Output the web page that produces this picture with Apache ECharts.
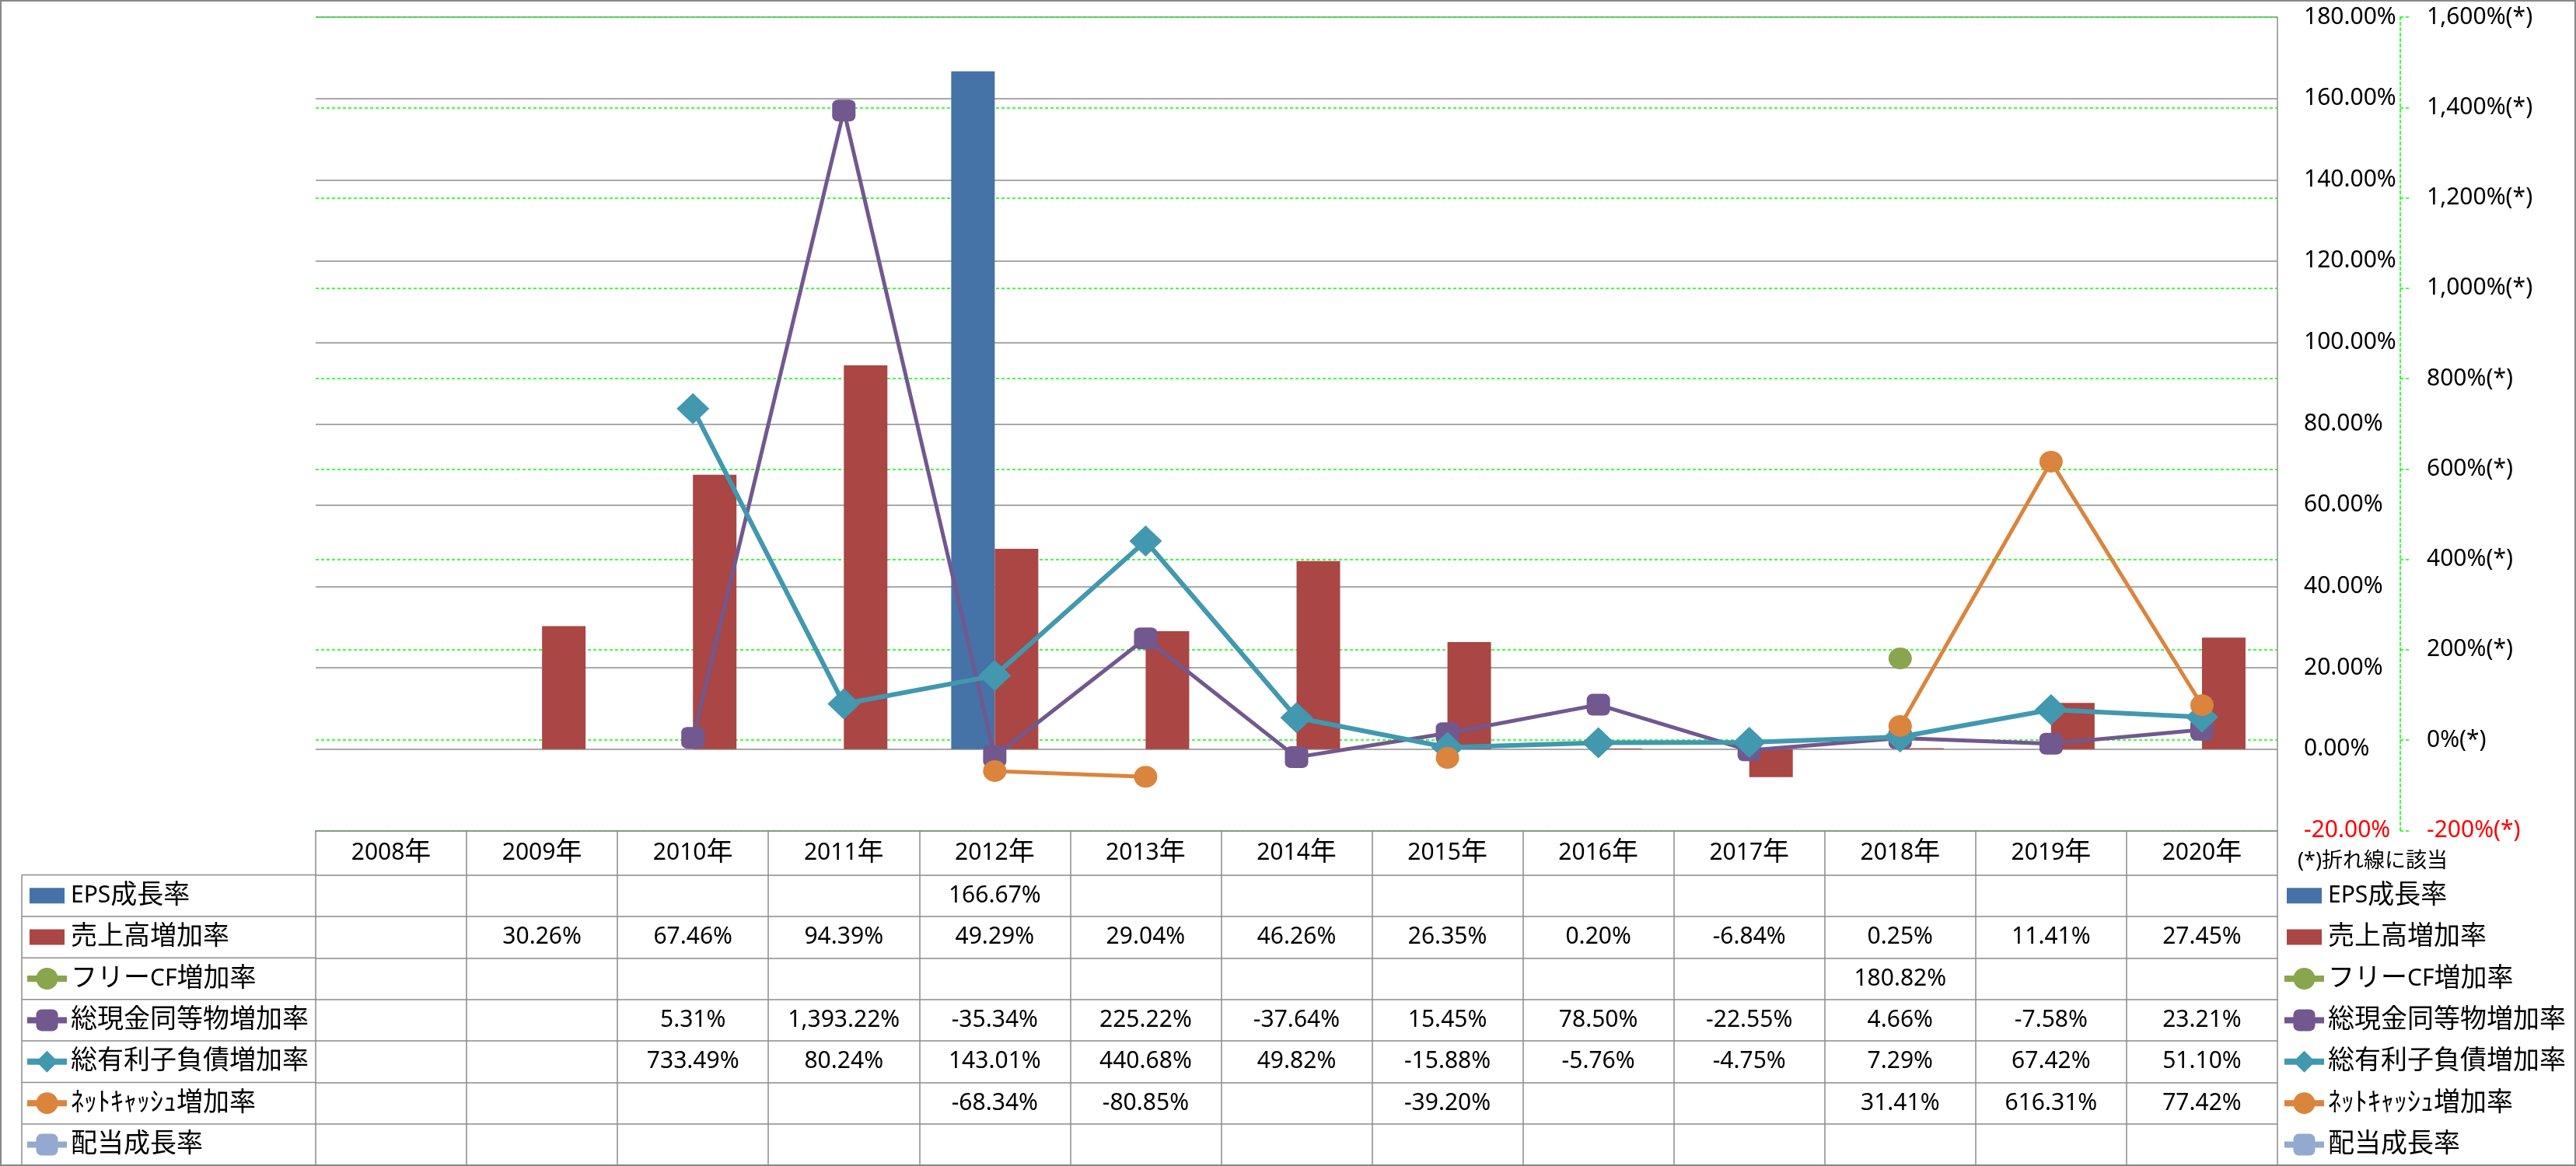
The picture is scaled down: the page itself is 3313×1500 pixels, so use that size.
<!DOCTYPE html>
<html>
<head>
<meta charset="utf-8">
<script src="https://cdn.jsdelivr.net/npm/echarts@6/dist/echarts.min.js"></script>
<style>
html,body{margin:0;padding:0;background:#fff;}
#c{width:3313px;height:1500px;}
</style>
</head>
<body>
<div id="c"></div>
<script>
// ---------------- DATA ----------------
const years = ['2008年','2009年','2010年','2011年','2012年','2013年','2014年','2015年','2016年','2017年','2018年','2019年','2020年'];
const seriesNames = ['EPS成長率','売上高増加率','フリーCF増加率','総現金同等物増加率','総有利子負債増加率','ﾈｯﾄｷｬｯｼｭ増加率','配当成長率'];
const epsGrowth      = [null, null, null, null, 166.67, null, null, null, null, null, null, null, null];
const salesGrowth    = [null, 30.26, 67.46, 94.39, 49.29, 29.04, 46.26, 26.35, 0.20, -6.84, 0.25, 11.41, 27.45];
const fcfGrowth      = [null, null, null, null, null, null, null, null, null, null, 180.82, null, null];
const cashGrowth     = [null, null, 5.31, 1393.22, -35.34, 225.22, -37.64, 15.45, 78.50, -22.55, 4.66, -7.58, 23.21];
const debtGrowth     = [null, null, 733.49, 80.24, 143.01, 440.68, 49.82, -15.88, -5.76, -4.75, 7.29, 67.42, 51.10];
const netCashGrowth  = [null, null, null, null, -68.34, -80.85, null, -39.20, null, null, 31.41, 616.31, 77.42];
const dividendGrowth = [null, null, null, null, null, null, null, null, null, null, null, null, null];
const barAxisRange  = [-20, 180, 20];    // min, max, interval (bars, %)
const lineAxisRange = [-200, 1600, 200]; // min, max, interval (lines, %(*))
const noteText = '(*)折れ線に該当';

// ---------------- STYLE / LAYOUT ----------------
const FONT = "'Noto Sans', 'Noto Sans CJK JP', sans-serif";
const W = 3313, H = 1500;
const GRID_L = 406, GRID_R = 384, GRID_T = 22, GRID_B = 431.5;
const PLOT_BOTTOM = H - GRID_B;
const HEADER_H = 57, ROW_H = 53.4;
const GRAY = '#8c8c8c';
const GREEN = '#00FF00';
const colors = ['#4572A7','#AA4643','#89A54E','#71588F','#4198AF','#DB843D','#93A9CF'];

const RICH = {
  l: { fontSize: 30, lineHeight: 35, color: '#000', fontFamily: FONT },
  c: { fontSize: 34, lineHeight: 35, color: '#000', fontFamily: FONT }
};
function richify(s) {
  return s.split(/([\x00-\x7F]+)/).filter(function (p) { return p.length > 0; }).map(function (p) {
    return (/^[\x00-\x7F]+$/.test(p) ? '{l|' : '{c|') + p + '}';
  }).join('');
}

function fmtNum(v, d) {
  const s = Math.abs(v).toFixed(d);
  const parts = s.split('.');
  const ip = parts[0].replace(/\B(?=(\d{3})+(?!\d))/g, ',');
  return (v < 0 ? '-' : '') + ip + (parts[1] ? '.' + parts[1] : '');
}

const tableRows = [epsGrowth, salesGrowth, fcfGrowth, cashGrowth, debtGrowth, netCashGrowth, dividendGrowth];

// x axes: header + one per table row + closing line
const xAxes = [];
xAxes.push({
  type: 'category', data: years, gridIndex: 0, position: 'bottom', offset: 0,
  boundaryGap: true,
  axisLine: { show: true, onZero: false, lineStyle: { color: GRAY, width: 1.5 } },
  axisTick: { show: true, length: HEADER_H, interval: 0, alignWithLabel: false, lineStyle: { color: GRAY, width: 1.5 } },
  axisLabel: {
    interval: 0, margin: HEADER_H / 2, verticalAlign: 'middle', fontSize: 30, color: '#000', fontFamily: FONT,
    formatter: function (val) { return richify(val); }, rich: RICH
  },
  splitLine: { show: false }
});
tableRows.forEach(function (row, i) {
  xAxes.push({
    type: 'category', data: years, gridIndex: 0, position: 'bottom', offset: HEADER_H + i * ROW_H,
    boundaryGap: true,
    axisLine: { show: true, onZero: false, lineStyle: { color: GRAY, width: 1.5 } },
    axisTick: { show: true, length: ROW_H, interval: 0, alignWithLabel: false, lineStyle: { color: GRAY, width: 1.5 } },
    axisLabel: {
      interval: 0, margin: ROW_H / 2, verticalAlign: 'middle', fontSize: 30, color: '#000', fontFamily: FONT,
      formatter: function (val, idx) { const v = row[idx]; return (v === null || v === undefined) ? '' : fmtNum(v, 2) + '%'; }
    },
    splitLine: { show: false }
  });
});
xAxes.push({
  type: 'category', data: years, gridIndex: 0, position: 'bottom', offset: HEADER_H + tableRows.length * ROW_H - 0.5,
  axisLine: { show: true, onZero: false, lineStyle: { color: GRAY, width: 1.5 } },
  axisTick: { show: false }, axisLabel: { show: false }, splitLine: { show: false }
});

// legends (label column + right side)
const BAR_ICON = 'path://M0,0M3,7.5L48,7.5L48,27.5L3,27.5ZM51,35';
const legendData = seriesNames.map(function (n, i) {
  return i < 2 ? { name: n, icon: BAR_ICON } : { name: n, lineStyle: { width: 8 } };
});
function makeLegend(left) {
  return {
    orient: 'vertical', left: left, top: HEADER_H + PLOT_BOTTOM + (ROW_H - 35) / 2,
    itemWidth: 51, itemHeight: 35, itemGap: ROW_H - 35, padding: 0,
    selectedMode: false, data: legendData,
    lineStyle: { width: 8 },
    formatter: function (name) { return richify(name); },
    textStyle: { fontSize: 30, lineHeight: 35, color: '#000', fontFamily: FONT, rich: RICH }
  };
}

// graphic: label column grid, frame, note
const graphics = [];
const tableTop = PLOT_BOTTOM + HEADER_H;
for (let k = 0; k <= tableRows.length; k++) {
  const y = tableTop + k * ROW_H;
  graphics.push({ type: 'line', shape: { x1: 28, y1: y, x2: GRID_L, y2: y }, style: { stroke: GRAY, lineWidth: 1.5 } });
}
graphics.push({ type: 'line', shape: { x1: 28, y1: tableTop, x2: 28, y2: tableTop + tableRows.length * ROW_H }, style: { stroke: GRAY, lineWidth: 1.5 } });
graphics.push({ type: 'text', x: 2955, y: PLOT_BOTTOM + 40, style: { text: noteText, fontSize: 27, fontFamily: FONT, fill: '#000', verticalAlign: 'middle' } });
graphics.push({ type: 'rect', z: 100, shape: { x: 1, y: 1, width: W - 2, height: H - 2 }, style: { fill: 'none', stroke: '#888', lineWidth: 2 } });

function lineSeries(idx, data, symbol, size, width) {
  return {
    name: seriesNames[idx], type: 'line', xAxisIndex: 0, yAxisIndex: 1, data: data,
    symbol: symbol, symbolSize: size, showSymbol: true, showAllSymbol: true, connectNulls: false,
    lineStyle: { width: width, color: colors[idx] },
    itemStyle: { color: colors[idx] },
    emphasis: { disabled: true }
  };
}

const option = {
  backgroundColor: '#fff',
  animation: false,
  textStyle: { fontFamily: FONT },
  grid: { left: GRID_L, right: GRID_R, top: GRID_T, bottom: GRID_B, containLabel: false },
  legend: [makeLegend(31), makeLegend(2934)],
  xAxis: xAxes,
  yAxis: [
    {
      type: 'value', position: 'right', min: barAxisRange[0], max: barAxisRange[1], interval: barAxisRange[2],
      axisLine: { show: true, lineStyle: { color: GRAY, width: 1.5 } },
      axisTick: { show: false },
      splitLine: { show: true, lineStyle: { color: GRAY, width: 1.5 } },
      axisLabel: {
        margin: 34, fontSize: 30, fontFamily: FONT, align: 'left',
        formatter: function (v) { return v.toFixed(2) + '%'; },
        color: function (v) { return Number(v) < 0 ? '#FF0000' : '#000'; }
      }
    },
    {
      type: 'value', position: 'right', offset: 158, min: lineAxisRange[0], max: lineAxisRange[1], interval: lineAxisRange[2],
      axisLine: { show: true, lineStyle: { color: GREEN, width: 1.5, type: [4, 3] } },
      axisTick: { show: true, length: 11, lineStyle: { color: GREEN, width: 1.5, type: [4, 3] } },
      splitLine: { show: true, lineStyle: { color: GREEN, width: 1.5, type: [4, 3] } },
      axisLabel: {
        margin: 34, fontSize: 30, fontFamily: FONT, align: 'left',
        formatter: function (v) { return fmtNum(v, 0) + '%(*)'; },
        color: function (v) { return Number(v) < 0 ? '#FF0000' : '#000'; }
      }
    }
  ],
  graphic: graphics,
  series: [
    { name: seriesNames[0], type: 'bar', xAxisIndex: 0, yAxisIndex: 0, data: epsGrowth, barWidth: 56, barGap: '0%', itemStyle: { color: colors[0] }, emphasis: { disabled: true } },
    { name: seriesNames[1], type: 'bar', xAxisIndex: 0, yAxisIndex: 0, data: salesGrowth, barWidth: 56, barGap: '0%', itemStyle: { color: colors[1] }, emphasis: { disabled: true } },
    lineSeries(2, fcfGrowth, 'circle', [30, 28], 5),
    lineSeries(3, cashGrowth, 'roundRect', [30, 28], 5),
    lineSeries(4, debtGrowth, 'diamond', [42, 40], 6),
    lineSeries(5, netCashGrowth, 'circle', [30, 28], 5),
    lineSeries(6, dividendGrowth, 'roundRect', [30, 28], 5)
  ]
};

const chart = echarts.init(document.getElementById('c'), null, { renderer: 'canvas', width: W, height: H });
chart.setOption(option);
</script>
</body>
</html>
